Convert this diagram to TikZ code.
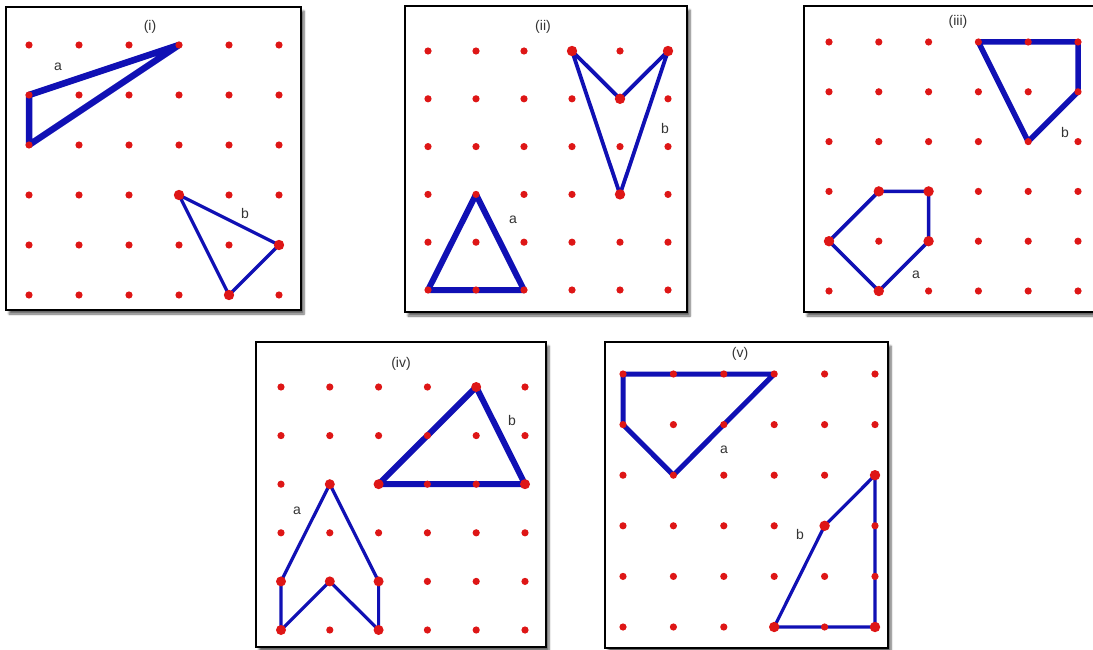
\documentclass[tikz,border=0pt]{standalone}
\usepackage{fontspec}
\setmainfont{Liberation Sans}
\usetikzlibrary{shadows.blur}
\definecolor{dotred}{RGB}{222,22,22}
\definecolor{lineblue}{RGB}{16,16,180}
\tikzset{
  panelbox/.style={draw=black,line width=2pt,fill=white,
    blur shadow={shadow xshift=3pt,shadow yshift=-4pt,shadow blur steps=6,shadow opacity=60}},
  dotmark/.style={fill=dotred},
  thickpoly/.style={draw=lineblue,line width=6pt,line join=round,line cap=round},
  medpoly/.style={draw=lineblue,line width=3.2pt,line join=round,line cap=round},
  lbl/.style={font=\fontsize{14}{16}\selectfont,text=black!80,inner sep=0pt},
}
\newcommand{\gridpanel}[5]{%
  \foreach \c in {0,...,5}{\foreach \r in {0,...,5}{%
    \coordinate (#1-\c-\r) at ({#2+\c*#4},{#3+\r*#5});}}%
}
\newcommand{\gdots}[1]{%
  \foreach \c in {0,...,5}{\foreach \r in {0,...,5}{%
    \fill[dotmark] (#1-\c-\r) circle (3.6);}}%
}
\begin{document}
\begin{tikzpicture}[x=1pt,y=-1pt]
\useasboundingbox (0,0) rectangle (1093,650);
% boxes
\path[panelbox] (6,7) rectangle (301,310);
\path[panelbox] (405,6) rectangle (687,312);
\path[panelbox] (804,6) rectangle (1102,312);
\path[panelbox] (256,342) rectangle (546,647);
\path[panelbox] (605,342) rectangle (888,648);
% grids
\gridpanel{A}{29}{45}{50}{50}
\gridpanel{B}{428}{51}{48}{47.8}
\gridpanel{C}{829}{42}{49.8}{49.8}
\gridpanel{D}{281}{387}{48.8}{48.6}
\gridpanel{E}{623}{374}{50.4}{50.6}
% (i)
\node[lbl] (ti) at (150,27) {(i)};
\path[thickpoly,line width=6.5pt] (A-3-0) -- (A-0-1) -- (A-0-2) -- cycle;
\path[medpoly] (A-3-3) -- (A-5-4) -- (A-4-5) -- cycle;
\gdots{A}
\foreach \v in {A-3-3,A-5-4,A-4-5} \fill[dotmark] (\v) circle (5.2);
\node[lbl] (ia) at (58,67) {a};
\node[lbl] (ib) at (245,213) {b};
% (ii)
\node[lbl] (tii) at (543,27) {(ii)};
\path[medpoly,line width=3.8pt] (B-3-0) -- (B-4-1) -- (B-5-0) -- (B-4-3) -- cycle;
\path[thickpoly] (B-1-3) -- (B-0-5) -- (B-2-5) -- cycle;
\gdots{B}
\foreach \v in {B-3-0,B-4-1,B-5-0,B-4-3} \fill[dotmark] (\v) circle (5.2);
\node[lbl] (iia) at (513,220) {a};
\node[lbl] (iib) at (665,128) {b};
% (iii)
\node[lbl] (tiii) at (958,22) {(iii)};
\path[thickpoly,line width=5.5pt] (C-3-0) -- (C-5-0) -- (C-5-1) -- (C-4-2) -- cycle;
\path[medpoly,line width=3.6pt] (C-1-3) -- (C-2-3) -- (C-2-4) -- (C-1-5) -- (C-0-4) -- cycle;
\gdots{C}
\foreach \v in {C-1-3,C-2-3,C-2-4,C-1-5,C-0-4} \fill[dotmark] (\v) circle (5.2);
\node[lbl] (iiia) at (916,275) {a};
\node[lbl] (iiib) at (1065,132) {b};
% (iv)
\node[lbl] (tiv) at (401,364) {(iv)};
\path[thickpoly] (D-2-2) -- (D-4-0) -- (D-5-2) -- cycle;
\path[medpoly] (D-0-4) -- (D-1-2) -- (D-2-4) -- (D-2-5) -- (D-1-4) -- (D-0-5) -- cycle;
\gdots{D}
\foreach \v in {D-0-4,D-1-2,D-2-4,D-2-5,D-1-4,D-0-5,D-2-2,D-5-2,D-4-0} \fill[dotmark] (\v) circle (5);
\node[lbl] (iva) at (297,511) {a};
\node[lbl] (ivb) at (512,420) {b};
% (v)
\node[lbl] (tv) at (740,354) {(v)};
\path[thickpoly,line width=5pt] (E-0-0) -- (E-3-0) -- (E-1-2) -- (E-0-1) -- cycle;
\path[medpoly] (E-3-5) -- (E-4-3) -- (E-5-2) -- (E-5-5) -- cycle;
\gdots{E}
\foreach \v in {E-3-5,E-4-3,E-5-2,E-5-5} \fill[dotmark] (\v) circle (5.2);
\node[lbl] (va) at (724,450) {a};
\node[lbl] (vb) at (800,534) {b};
\end{tikzpicture}
\end{document}
